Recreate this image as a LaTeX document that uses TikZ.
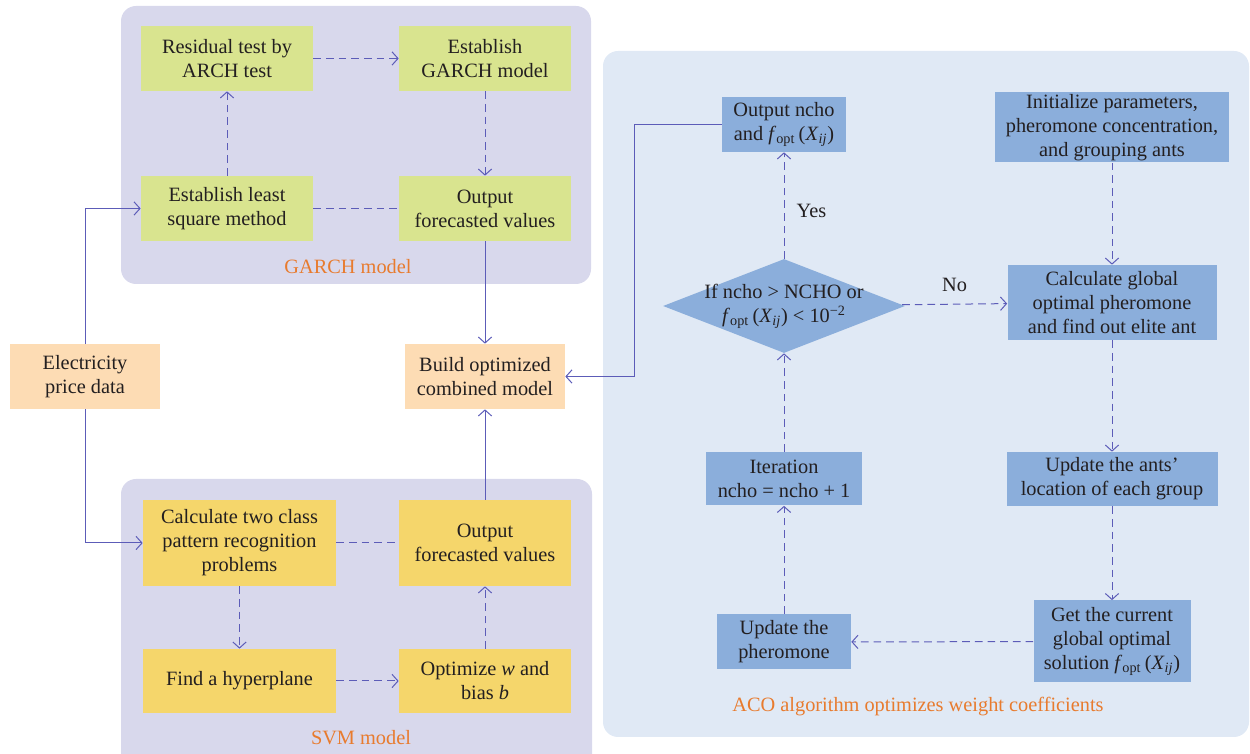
\documentclass[tikz,border=0pt]{standalone}
\usepackage{fontspec}
\setmainfont{Liberation Serif}
\usepackage{tikz}
\usetikzlibrary{arrows.meta,shapes.geometric}

\definecolor{panelgarch}{RGB}{216,216,236}
\definecolor{panelaco}{RGB}{224,233,245}
\definecolor{garchbox}{RGB}{217,228,143}
\definecolor{svmbox}{RGB}{245,214,107}
\definecolor{databox}{RGB}{253,220,180}
\definecolor{acobox}{RGB}{139,174,219}
\definecolor{linkcol}{RGB}{92,92,184}
\definecolor{tagcol}{RGB}{232,123,46}
\definecolor{txtcol}{RGB}{35,31,32}

\newcommand{\fopt}{\textit{f}\textsubscript{opt}\,(\textit{X}\textsubscript{\textit{ij}})}

\tikzset{
  box/.style={inner sep=0pt,align=center,text=txtcol,
              font=\fontsize{12.2}{14.4}\selectfont},
  garch/.style={box,fill=garchbox,minimum width=103.2pt,minimum height=39pt},
  svm/.style={box,fill=svmbox},
  data/.style={box,fill=databox,minimum height=39pt},
  aco/.style={box,fill=acobox},
  decision/.style={box,diamond,aspect=2.57,fill=acobox,
                   minimum width=145.2pt,minimum height=56.4pt},
  tag/.style={text=tagcol,font=\fontsize{12.2}{14.4}\selectfont},
  panel/.style={rounded corners=9pt},
  flow/.style={-{Straight Barb[length=3.6pt,width=8pt]},draw=linkcol,line width=0.6pt},
  dflow/.style={flow,dash pattern=on 4.6pt off 3pt},
  dlink/.style={draw=linkcol,line width=0.6pt,dash pattern=on 4.6pt off 3pt}
}

\begin{document}
\begin{tikzpicture}[x=0.6pt,y=-0.6pt]
  \path[use as bounding box] (0,0) rectangle (1250,754);
  \clip (0,0) rectangle (1250,754);

  % background panels
  \fill[panel,panelgarch] (121,6) rectangle (591,284);
  \fill[panel,panelgarch] (121,479) rectangle (592,775);
  \fill[panel,panelaco] (603,51) rectangle (1249,737);

  % GARCH part
  \node[garch] (res) at (227,58.5) {Residual test by\\ARCH test};
  \node[garch] (gm) at (485,58.5) {Establish\\GARCH model};
  \node[garch] (lsm) at (227,208.5) {Establish least\\square method};
  \node[garch] (gout) at (485,208.5) {Output\\forecasted values};
  \node[tag] (garchtag) at (348,267) {GARCH model};

  % data and combination
  \node[data,minimum width=90pt] (elec) at (85,376.5) {Electricity\\price data};
  \node[data,minimum width=96pt] (build) at (485,376.5) {Build optimized\\combined model};

  % SVM part
  \node[svm,minimum width=115.8pt,minimum height=51.6pt] (calc) at (239.5,543)
    {Calculate two class\\pattern recognition\\problems};
  \node[svm,minimum width=103.2pt,minimum height=51.6pt] (sout) at (485,543)
    {Output\\forecasted values};
  \node[svm,minimum width=115.8pt,minimum height=38.4pt] (hyp) at (239.5,681)
    {Find a hyperplane};
  \node[svm,minimum width=103.2pt,minimum height=38.4pt] (optw) at (485,681)
    {Optimize \textit{w} and\\bias \textit{b}};
  \node[tag] (svmtag) at (361,738) {SVM model};

  % ACO part
  \node[aco,minimum width=74.4pt,minimum height=33pt] (outn) at (784,124.5)
    {Output ncho\\and \fopt};
  \node[aco,minimum width=140.4pt,minimum height=42pt] (init) at (1112,127.5)
    {Initialize parameters,\\pheromone concentration,\\and grouping ants};
  \node[decision] (dec) at (784,306)
    {\makebox[0pt]{\smash{\raisebox{-3pt}{\begin{tabular}{@{}c@{}}If ncho > NCHO or\\
     \fopt{} < 10\textsuperscript{−2}\end{tabular}}}}};
  \node[aco,minimum width=125.4pt,minimum height=45pt] (calg) at (1112,302.5)
    {Calculate global\\optimal pheromone\\and find out elite ant};
  \node[aco,minimum width=93.6pt,minimum height=31.8pt] (iter) at (784,479)
    {Iteration\\ncho = ncho + 1};
  \node[aco,minimum width=126.6pt,minimum height=32.4pt] (upda) at (1112,479)
    {Update the ants'\\location of each group};
  \node[aco,minimum width=80.4pt,minimum height=33pt] (updp) at (784,642)
    {Update the\\pheromone};
  \node[aco,minimum width=94.2pt,minimum height=49.2pt] (getc) at (1112,641.5)
    {Get the current\\global optimal\\solution \fopt};
  \node[tag] (acotag) at (918,707) {ACO algorithm optimizes weight coefficients};

  % GARCH links
  \draw[dflow] (res) -- (gm);
  \draw[dflow] (gm) -- (gout);
  \draw[dflow] (lsm) -- (res);
  \draw[dlink] (lsm) -- (gout);

  % SVM links
  \draw[dlink] (calc) -- (sout);
  \draw[dflow] (calc) -- (hyp);
  \draw[dflow] (hyp) -- (optw);
  \draw[dflow] (optw) -- (sout);

  % data flow
  \draw[flow] (elec.north) |- (lsm.west);
  \draw[flow] (elec.south) |- (calc.west);
  \draw[flow] (gout) -- (build);
  \draw[flow] (sout) -- (build);
  \draw[flow] (outn.west) -- ++(-87,0) |- (build.east);

  % ACO loop
  \draw[dflow] (init) -- (calg);
  \draw[dflow] (calg) -- (upda);
  \draw[dflow] (upda) -- (getc);
  \draw[dflow] (getc) -- (updp);
  \draw[dflow] (updp) -- (iter);
  \draw[dflow] (iter) -- (dec);
  \draw[dflow] (dec) -- node[tag,text=txtcol,right=4pt,pos=0.45] {Yes} (outn);
  \draw[dflow] (dec) -- node[tag,text=txtcol,above=4pt] {No} (calg);
\end{tikzpicture}
\end{document}
